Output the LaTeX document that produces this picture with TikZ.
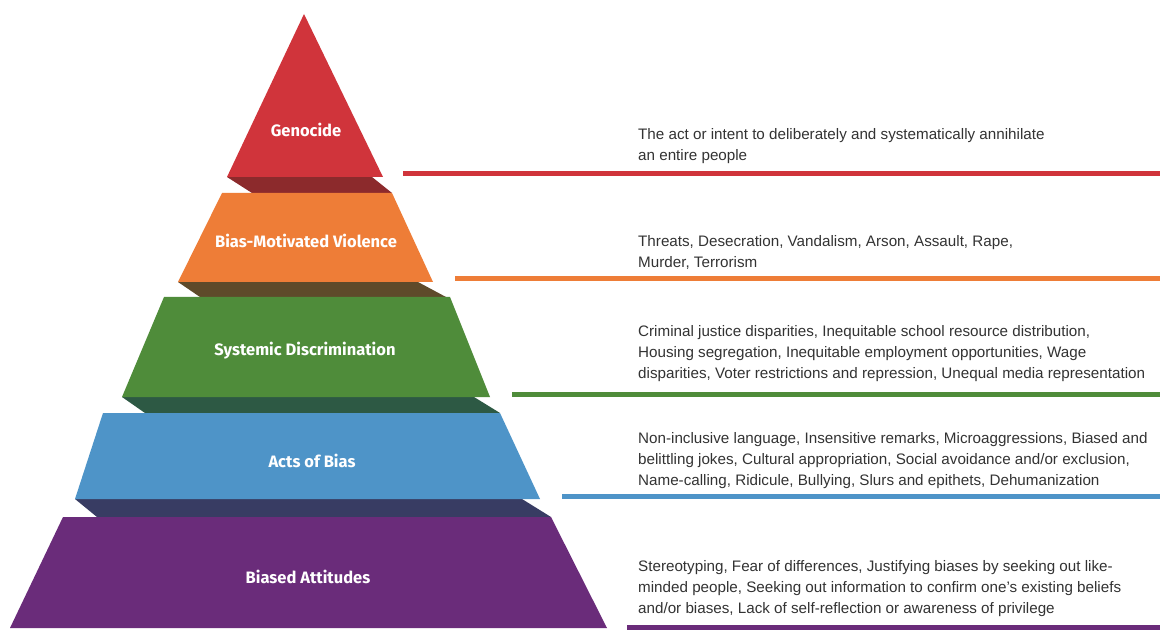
\documentclass[tikz,border=0pt]{standalone}
\usepackage{fontspec}
\setmainfont{Liberation Sans}
\newfontfamily\labelfont{Fira Sans}
\definecolor{cred}{HTML}{D0343B}
\definecolor{credd}{HTML}{8C2A2C}
\definecolor{corange}{HTML}{EE7D37}
\definecolor{coranged}{HTML}{5E4A2A}
\definecolor{cgreen}{HTML}{4F8C3A}
\definecolor{cgreend}{HTML}{2D5944}
\definecolor{cblue}{HTML}{4E94C8}
\definecolor{cblued}{HTML}{383C63}
\definecolor{cpurple}{HTML}{6A2C7A}
\definecolor{ctext}{HTML}{333333}
\begin{document}
\begin{tikzpicture}[x=1pt,y=-1pt,
  layerlabel/.style={font=\labelfont\bfseries\fontsize{16.5}{19}\selectfont, text=white, inner sep=0pt},
  desc/.style={font=\fontsize{15.2}{21}\selectfont, text=ctext, align=left, anchor=base west, inner sep=0pt},
  bar/.style={line width=5pt}]
\useasboundingbox[fill=white] (0,0) rectangle (1160,631);
% shadows
\fill[credd] (227,177) -- (372,177) -- (392,193) -- (252,193) -- cycle;
\fill[coranged] (178,282) -- (418,282) -- (446,297) -- (200,297) -- cycle;
\fill[cgreend] (122,397) -- (474,397) -- (500,413) -- (145,413) -- cycle;
\fill[cblued] (75,499) -- (522,499) -- (551,517) -- (97,517) -- cycle;
% layers
\fill[cred] (304,14) -- (383,177) -- (227,177) -- cycle;
\fill[corange] (222,193) -- (392,193) -- (433,282) -- (178,282) -- cycle;
\fill[cgreen] (164,297) -- (450,297) -- (490,397) -- (122,397) -- cycle;
\fill[cblue] (103,413) -- (500,413) -- (540,499) -- (75,499) -- cycle;
\fill[cpurple] (63,517) -- (551,517) -- (607,628) -- (10,628) -- cycle;
% labels
\node[layerlabel] (lgen) at (306,130) {Genocide};
\node[layerlabel] (lviol) at (306,241) {Bias-Motivated Violence};
\node[layerlabel] (lsys) at (305,351) {Systemic Discrimination};
\node[layerlabel] (lacts) at (312,461) {Acts of Bias};
\node[layerlabel] (latt) at (308,577) {Biased Attitudes};
% bars
\coordinate (r1) at (403,174); \coordinate (r2) at (1160,174);
\coordinate (o1) at (455,279); \coordinate (o2) at (1160,279);
\coordinate (g1) at (512,394); \coordinate (g2) at (1160,394);
\coordinate (b1) at (562,496); \coordinate (b2) at (1160,496);
\coordinate (p1) at (627,627); \coordinate (p2) at (1160,627);
\draw[bar, cred] (r1) -- (r2);
\draw[bar, corange] (o1) -- (o2);
\draw[bar, cgreen] (g1) -- (g2);
\draw[bar, cblue] (b1) -- (b2);
\draw[bar, cpurple] (p1) -- (p2);
% descriptions (anchored at the baseline of the last line)
\node[desc] (dgen) at (638,161) {The act or intent to deliberately and systematically annihilate\\an entire people};
\node[desc] (dviol) at (638,268) {Threats, Desecration, Vandalism, Arson, Assault, Rape,\\Murder, Terrorism};
\node[desc] (dsys) at (638,378) {Criminal justice disparities, Inequitable school resource distribution,\\Housing segregation, Inequitable employment opportunities, Wage\\disparities, Voter restrictions and repression, Unequal media representation};
\node[desc] (dacts) at (638,485) {Non-inclusive language, Insensitive remarks, Microaggressions, Biased and\\belittling jokes, Cultural appropriation, Social avoidance and/or exclusion,\\Name-calling, Ridicule, Bullying, Slurs and epithets, Dehumanization};
\node[desc] (datt) at (638,613) {Stereotyping, Fear of differences, Justifying biases by seeking out like-\\minded people, Seeking out information to confirm one’s existing beliefs\\and/or biases, Lack of self-reflection or awareness of privilege};
\end{tikzpicture}
\end{document}
